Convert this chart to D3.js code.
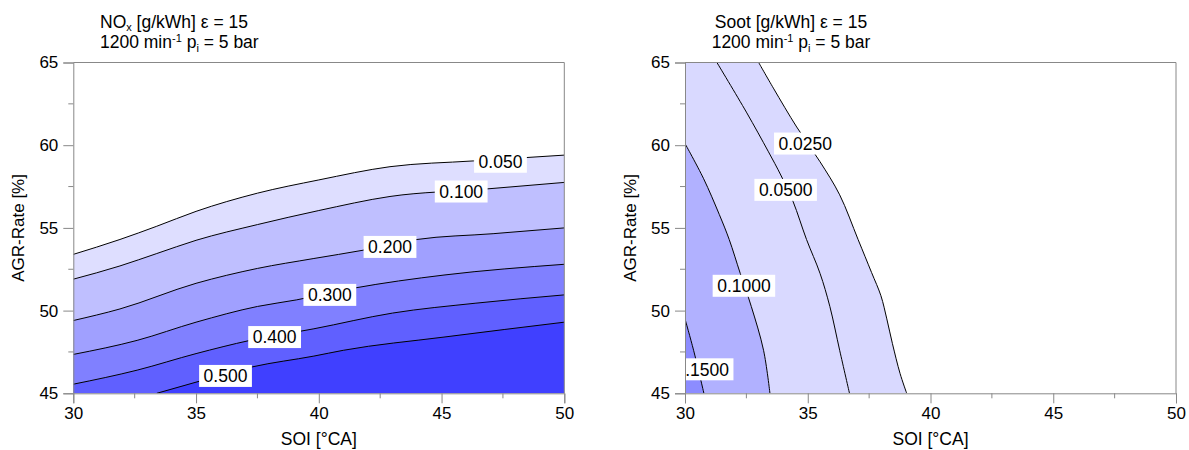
<!DOCTYPE html>
<html>
<head>
<meta charset="utf-8">
<script src="https://cdn.jsdelivr.net/npm/d3@7"></script>
<style>
body { margin: 0; background: #fff; }
text { font-family: "Liberation Sans", Arial, sans-serif; fill: #000; }
</style>
</head>
<body>
<svg id="chart" width="1189" height="450"></svg>
<script>
// axis ticks (shared by both panels)
const soiTicks = [30, 35, 40, 45, 50];
const soiMinor = [32.5, 37.5, 42.5, 47.5];
const agrTicks = [45, 50, 55, 60, 65];
const agrMinor = [47.5, 52.5, 57.5, 62.5];

// NOx contour lines, [SOI, AGR] pairs
const noxLevels = ['0.050', '0.100', '0.200', '0.300', '0.400', '0.500'];
const nox050 = [[30, 53.4], [31.9, 54.3], [33.4, 55.1], [35.0, 56.0], [37.5, 57.1], [40.0, 57.9], [42.9, 58.7], [46.3, 59.05], [50, 59.4]];
const nox100 = [[30, 51.9], [31.9, 52.7], [33.4, 53.45], [35.0, 54.25], [37.5, 55.2], [40.0, 56.05], [42.9, 56.9], [46.8, 57.35], [50, 57.75]];
const nox200 = [[30, 49.4], [31.9, 50.1], [35.0, 51.65], [37.5, 52.55], [39.8, 53.15], [41.8, 53.65], [44.0, 54.3], [47.1, 54.65], [50, 55.0]];
const nox300 = [[30, 47.35], [32.6, 48.2], [35.0, 49.3], [37.5, 50.25], [39.1, 50.65], [41.4, 51.35], [45.1, 52.15], [50, 52.8]];
const nox400 = [[30, 45.55], [32.6, 46.4], [35.0, 47.4], [37.2, 48.2], [39.8, 48.9], [43.0, 49.85], [46.4, 50.45], [50, 50.95]];
const nox500 = [[33.4, 45.0], [35.3, 45.8], [37.3, 46.6], [39.8, 47.25], [41.0, 47.6], [45.1, 48.4], [50, 49.3]];
const noxLines = [nox050, nox100, nox200, nox300, nox400, nox500];
const noxLabelAt = [[47.4, 59.0], [45.8, 57.2], [42.9, 53.85], [40.45, 50.95], [38.2, 48.4], [36.2, 46.05]];

// Soot contour lines, [SOI, AGR] pairs from top to bottom
const sootLevels = ['0.0250', '0.0500', '0.1000', '0.1500'];
const soot025 = [[33.0, 65], [33.6, 63.45], [34.55, 61.1], [35.5, 59.0], [36.3, 57.0], [37.05, 54.3], [37.6, 52.3], [37.98, 50.9], [38.22, 49.5], [38.45, 48.0], [38.76, 46.2], [39.03, 45]];
const soot050 = [[31.3, 65], [32.5, 62.0], [33.4, 59.6], [33.9, 58.2], [34.4, 56.6], [34.95, 54.3], [35.5, 52.25], [35.9, 50.25], [36.3, 47.6], [36.7, 45]];
const soot100 = [[30, 60.1], [30.75, 58.0], [31.4, 55.8], [31.8, 54.3], [32.25, 52.25], [32.7, 50.25], [33.2, 47.6], [33.46, 45]];
const soot150 = [[30, 49.5], [30.35, 47.6], [30.77, 45]];
const sootLines = [soot025, soot050, soot100, soot150];
const sootLabelAt = [[34.9, 60.1], [34.1, 57.3], [32.4, 51.5], [30.7, 46.45]];

const noxFills = ['#dedeff', '#bfbfff', '#a0a0ff', '#8080ff', '#6060ff', '#4040ff'];
const sootFills = ['#d9d9ff', '#d9d9ff', '#b1b1ff', '#8c8cff'];

const svg = d3.select('#chart');

function drawPanel(opt) {
    const x = d3.scaleLinear().domain([30, 50]).range([opt.left, opt.left + 491]);
    const y = d3.scaleLinear().domain([45, 65]).range([393.3, 62.5]);
    const g = svg.append('g');

    g.append('clipPath').attr('id', opt.id + 'clip')
        .append('rect')
        .attr('x', x(30)).attr('y', y(65))
        .attr('width', x(50) - x(30)).attr('height', y(45) - y(65));
    const plot = g.append('g').attr('clip-path', 'url(#' + opt.id + 'clip)');

    // filled bands, lightest first, each covering the higher-value side of its line
    let area, line;
    if (opt.vertical) {
        area = d3.area().curve(d3.curveCatmullRom)
            .y(d => y(d[1])).x0(x(30)).x1(d => x(d[0]));
        line = d3.line().curve(d3.curveCatmullRom).x(d => x(d[0])).y(d => y(d[1]));
    } else {
        area = d3.area().curve(d3.curveMonotoneX)
            .x(d => x(d[0])).y0(y(45)).y1(d => y(d[1]));
        line = d3.line().curve(d3.curveMonotoneX).x(d => x(d[0])).y(d => y(d[1]));
    }
    opt.lines.forEach((pts, i) => {
        plot.append('path').attr('d', area(pts)).attr('fill', opt.fills[i]);
    });
    opt.lines.forEach(pts => {
        plot.append('path').attr('d', line(pts))
            .attr('fill', 'none').attr('stroke', '#000').attr('stroke-width', 1);
    });

    // contour labels on white boxes
    opt.labels.forEach((p, i) => {
        const lg = plot.append('g').attr('transform', 'translate(' + x(p[0]) + ',' + y(p[1]) + ')');
        const t = lg.append('text').attr('text-anchor', 'middle').attr('dy', '0.36em')
            .attr('font-size', 17.5).text(opt.levels[i]);
        const w = t.node().getComputedTextLength() + 9;
        lg.insert('rect', 'text').attr('x', -w / 2).attr('y', -11)
            .attr('width', w).attr('height', 22).attr('fill', '#fff');
    });

    // frame and ticks
    const axisColor = '#888';
    g.append('line').attr('x1', x(30)).attr('x2', x(50)).attr('y1', y(65)).attr('y2', y(65)).attr('stroke', axisColor);
    g.append('line').attr('x1', x(50)).attr('x2', x(50)).attr('y1', y(65)).attr('y2', y(45)).attr('stroke', axisColor);

    const xAxis = g.append('g').attr('transform', 'translate(0,' + y(45) + ')')
        .call(d3.axisBottom(x).tickValues(soiTicks).tickSize(10).tickPadding(4).tickFormat(d3.format('d')));
    xAxis.append('g').selectAll('line').data(soiMinor).join('line')
        .attr('x1', d => x(d)).attr('x2', d => x(d)).attr('y1', 0).attr('y2', 5);
    const yAxis = g.append('g').attr('transform', 'translate(' + x(30) + ',0)')
        .call(d3.axisLeft(y).tickValues(agrTicks).tickSize(10).tickPadding(5).tickFormat(d3.format('d')));
    yAxis.append('g').selectAll('line').data(agrMinor).join('line')
        .attr('y1', d => y(d)).attr('y2', d => y(d)).attr('x1', 0).attr('x2', -5);

    [xAxis, yAxis].forEach(a => {
        a.select('.domain').attr('stroke', axisColor);
        a.selectAll('line').attr('stroke', axisColor);
        a.selectAll('text').attr('font-size', 17).attr('fill', '#000')
            .style('font-family', '"Liberation Sans", Arial, sans-serif');
    });

    // axis titles
    g.append('text').attr('x', (x(30) + x(50)) / 2).attr('y', 445)
        .attr('text-anchor', 'middle').attr('font-size', 17.5).text('SOI [°CA]');
    g.append('text').attr('transform', 'translate(' + (x(30) - 49) + ',' + ((y(45) + y(65)) / 2) + ') rotate(-90)')
        .attr('text-anchor', 'middle').attr('font-size', 17).text('AGR-Rate [%]');

    // two-line title
    const anchor = opt.titleCentered ? 'middle' : 'start';
    const t1 = g.append('text').attr('x', opt.titleX).attr('y', 28)
        .attr('font-size', 17.5).attr('text-anchor', anchor);
    opt.title(t1);
    const t2 = g.append('text').attr('x', opt.titleX).attr('y', 48)
        .attr('font-size', 17.5).attr('text-anchor', anchor);
    t2.append('tspan').text('1200 min');
    t2.append('tspan').attr('font-size', 11).attr('dy', -6).text('-1');
    t2.append('tspan').attr('dy', 6).text(' p');
    t2.append('tspan').attr('font-size', 11).attr('dy', 4).text('i');
    t2.append('tspan').attr('dy', -4).text(' = 5 bar');
}

drawPanel({
    id: 'nox', left: 73.3, titleX: 100, titleCentered: false, vertical: false,
    lines: noxLines, fills: noxFills, levels: noxLevels, labels: noxLabelAt,
    title: t => {
        t.append('tspan').text('NO');
        t.append('tspan').attr('font-size', 11).attr('dy', 3).text('x');
        t.append('tspan').attr('dy', -3).text(' [g/kWh] ε = 15');
    }
});

drawPanel({
    id: 'soot', left: 685, titleX: 791, titleCentered: true, vertical: true,
    lines: sootLines, fills: sootFills, levels: sootLevels, labels: sootLabelAt,
    title: t => {
        t.append('tspan').text('Soot [g/kWh] ε = 15');
    }
});
</script>
</body>
</html>
